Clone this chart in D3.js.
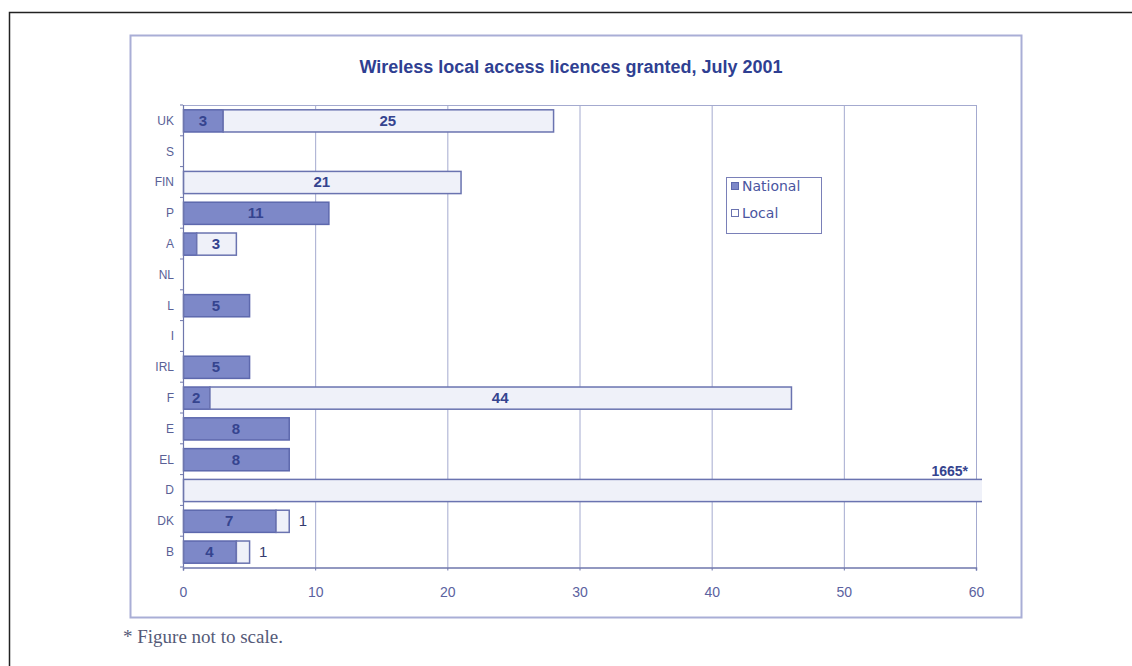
<!DOCTYPE html>
<html>
<head>
<meta charset="utf-8">
<script src="https://cdn.jsdelivr.net/npm/d3@7"></script>
<style>
  html, body { margin: 0; padding: 0; background: #fff; }
  svg { display: block; }
</style>
</head>
<body>
<svg id="chart" width="1132" height="666"></svg>
<script>
// Member states, top to bottom
const countries = ["UK", "S", "FIN", "P", "A", "NL", "L", "I", "IRL", "F", "E", "EL", "D", "DK", "B"];
// Licences granted per country
const nationalLicences = [3, 0, 0, 11, 1, 0, 5, 0, 5, 2, 8, 8, 0, 7, 4];
const localLicences    = [25, 0, 21, 0, 3, 0, 0, 0, 0, 44, 0, 0, 1665, 1, 1];
const xTicks = [0, 10, 20, 30, 40, 50, 60];
const seriesNames = ["National", "Local"];
const titleText = "Wireless local access licences granted, July 2001";
const footnoteText = "* Figure not to scale.";

const svg = d3.select("#chart");
const sans = "'Liberation Sans', Arial, sans-serif";

// Page frame
svg.append("path")
  .attr("d", "M9.5,666 V12.5 H1132")
  .attr("fill", "none").attr("stroke", "#222").attr("stroke-width", 1.5);

// Chart box
svg.append("rect")
  .attr("x", 130.5).attr("y", 35.5).attr("width", 891).attr("height", 582)
  .attr("fill", "#fff").attr("stroke", "#a9aed6").attr("stroke-width", 2);

const plot = { left: 183, right: 976, top: 105, bottom: 567 };

const x = d3.scaleLinear().domain([0, 60]).range([plot.left, plot.right]);
const y = d3.scaleBand().domain(countries).range([plot.top, plot.bottom])
  .paddingInner(0.28).paddingOuter(0.14);

const colNat = { fill: "#7d88c8", stroke: "#5d68ad" };
const colLoc = { fill: "#eff1f9", stroke: "#6a73b0" };
const gridCol = "#a4aacf";
const axisCol = "#6f77ac";
const valueCol = "#35448f";

// Title
svg.append("text")
  .attr("x", 571).attr("y", 73)
  .attr("text-anchor", "middle")
  .attr("font-family", sans).attr("font-weight", "bold")
  .attr("font-size", 18).attr("fill", "#2f3f92")
  .text(titleText);

// Vertical gridlines
svg.append("g").selectAll("line").data(xTicks.filter(d => d > 0)).join("line")
  .attr("x1", d => x(d) + 0.5).attr("x2", d => x(d) + 0.5)
  .attr("y1", plot.top).attr("y2", plot.bottom)
  .attr("stroke", gridCol).attr("stroke-width", 1);

// Top border of the plotting area
svg.append("line")
  .attr("x1", plot.left).attr("x2", plot.right + 0.5)
  .attr("y1", plot.top + 0.5).attr("y2", plot.top + 0.5)
  .attr("stroke", gridCol);

// Clip so the off-scale bar runs just past the last gridline
svg.append("clipPath").attr("id", "plotClip")
  .append("rect").attr("x", plot.left - 2).attr("y", plot.top)
  .attr("width", 982 - plot.left + 2).attr("height", plot.bottom - plot.top);

const rows = countries.map((c, i) => ({ c, nat: nationalLicences[i], loc: localLicences[i] }));
const bars = svg.append("g").attr("clip-path", "url(#plotClip)");

// National segment
bars.selectAll("rect.nat").data(rows.filter(d => d.nat > 0)).join("rect")
  .attr("class", "nat")
  .attr("x", x(0) + 0.5).attr("y", d => y(d.c) + 0.5)
  .attr("width", d => x(d.nat) - x(0)).attr("height", y.bandwidth())
  .attr("fill", colNat.fill).attr("stroke", colNat.stroke).attr("stroke-width", 1.5);

// Local segment, stacked after national
bars.selectAll("rect.loc").data(rows.filter(d => d.loc > 0)).join("rect")
  .attr("class", "loc")
  .attr("x", d => x(d.nat) + 0.5).attr("y", d => y(d.c) + 0.5)
  .attr("width", d => x(d.nat + d.loc) - x(d.nat)).attr("height", y.bandwidth())
  .attr("fill", colLoc.fill).attr("stroke", colLoc.stroke).attr("stroke-width", 1.5);

// Value labels
const labels = [];
rows.forEach(d => {
  const cy = y(d.c) + y.bandwidth() / 2;
  if (d.nat >= 2) labels.push({ x: x(d.nat / 2), y: cy, t: d.nat, anchor: "middle" });
  if (d.loc > 0) {
    if (d.loc > 60) {
      labels.push({ x: 968, y: y(d.c) - 8, t: d.loc + "*", anchor: "end", small: true });
    } else if (d.loc >= 3) {
      labels.push({ x: x(d.nat + d.loc / 2), y: cy, t: d.loc, anchor: "middle" });
    } else {
      labels.push({ x: x(d.nat + d.loc) + 10, y: cy, t: d.loc, anchor: "start", outside: true });
    }
  }
});
svg.append("g").selectAll("text").data(labels).join("text")
  .attr("x", d => d.x).attr("y", d => d.y)
  .attr("dy", "0.36em")
  .attr("text-anchor", d => d.anchor)
  .attr("font-family", sans)
  .attr("font-weight", d => d.outside ? "normal" : "bold")
  .attr("font-size", d => d.small ? 14 : 15)
  .attr("fill", d => d.outside ? "#333b6e" : valueCol)
  .text(d => d.t);

// Left axis line with ticks at band boundaries
svg.append("line")
  .attr("x1", plot.left + 0.5).attr("x2", plot.left + 0.5)
  .attr("y1", plot.top).attr("y2", plot.bottom)
  .attr("stroke", axisCol).attr("stroke-width", 1.2);
const step = y.step();
svg.append("g").selectAll("line").data(d3.range(countries.length + 1)).join("line")
  .attr("x1", plot.left - 3).attr("x2", plot.left)
  .attr("y1", i => plot.top + i * step).attr("y2", i => plot.top + i * step)
  .attr("stroke", axisCol);

// Category labels
svg.append("g").selectAll("text").data(countries).join("text")
  .attr("x", 174).attr("y", d => y(d) + y.bandwidth() / 2)
  .attr("dy", "0.36em").attr("text-anchor", "end")
  .attr("font-family", sans).attr("font-size", 12)
  .attr("fill", "#5a6196")
  .text(d => d);

// Bottom axis
const xAxis = d3.axisBottom(x).tickValues(xTicks).tickSize(3).tickPadding(17);
const gx = svg.append("g").attr("transform", `translate(0,${plot.bottom + 0.5})`).call(xAxis);
gx.select(".domain").attr("stroke", axisCol).attr("stroke-width", 1.5);
gx.selectAll(".tick line").attr("stroke", axisCol);
gx.selectAll(".tick text")
  .attr("font-family", sans).attr("font-size", 14).attr("fill", "#5b62a0");

// Legend
const lg = svg.append("g").attr("transform", "translate(726,177)");
lg.append("rect").attr("x", 0.5).attr("y", 0.5).attr("width", 95).attr("height", 56)
  .attr("fill", "#fff").attr("stroke", "#7a80b8");
seriesNames.forEach((name, i) => {
  const c = i === 0 ? colNat : { fill: "#fff", stroke: colLoc.stroke };
  lg.append("rect").attr("x", 5.5).attr("y", 5.5 + i * 27).attr("width", 7).attr("height", 7)
    .attr("fill", c.fill).attr("stroke", c.stroke);
  lg.append("text").attr("x", 16).attr("y", 9 + i * 27).attr("dy", "0.36em")
    .attr("font-family", "'DejaVu Sans', sans-serif").attr("font-size", 14).attr("fill", "#4a55a0")
    .text(name);
});

// Footnote
svg.append("text")
  .attr("x", 123).attr("y", 643)
  .attr("font-family", "'Liberation Serif', 'Times New Roman', serif")
  .attr("font-size", 19).attr("fill", "#555a78")
  .text(footnoteText);
</script>
</body>
</html>
